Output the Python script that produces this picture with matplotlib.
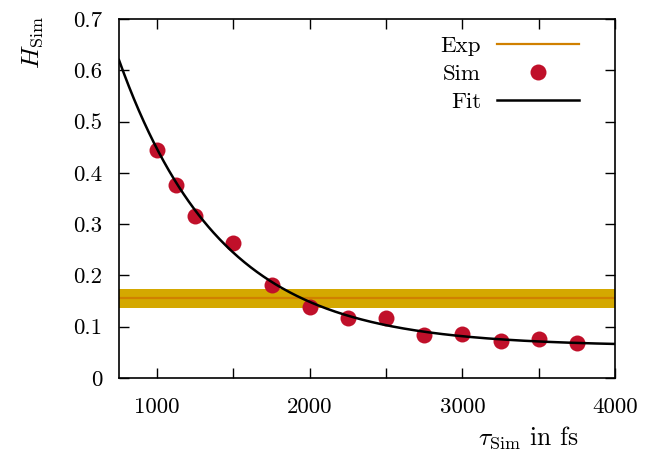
import numpy as np
import matplotlib
matplotlib.use("Agg")
import matplotlib.pyplot as plt

# Simulationswerte
tau_sim = [1000, 1125, 1250, 1500, 1750, 2000, 2250, 2500, 2750, 3000, 3250, 3500, 3750]
h_sim = [0.444, 0.376, 0.316, 0.263, 0.181, 0.138, 0.117, 0.117, 0.084, 0.086, 0.072, 0.076, 0.068]

# Experimenteller Wert mit Fehlerband
h_exp = 0.155
h_exp_err = 0.019

# Fit-Parameter: H = a * exp(-(tau - tau0) / t) + c
fit_a = 0.558
fit_tau0 = 750
fit_t = 670
fit_c = 0.062

x_ticks = [1000, 1500, 2000, 2500, 3000, 3500, 4000]
x_labels = ["1000", "", "2000", "", "3000", "", "4000"]
y_ticks = [0, 0.1, 0.2, 0.3, 0.4, 0.5, 0.6, 0.7]
y_labels = ["0", "0.1", "0.2", "0.3", "0.4", "0.5", "0.6", "0.7"]

plt.rcParams["font.family"] = "cmr10"
plt.rcParams["mathtext.fontset"] = "cm"
plt.rcParams["axes.formatter.use_mathtext"] = True
plt.rcParams["font.size"] = 16.5

fig = plt.figure(figsize=(6.51, 4.51), dpi=100)
ax = fig.add_axes([0.1828, 0.1619, 0.7619, 0.796])

# Band + Linie
ax.axhspan(h_exp - h_exp_err, h_exp + h_exp_err, color="#d4a800", lw=0, zorder=1)
ax.axhline(h_exp, color="#d08000", lw=1.6, zorder=2, label="Exp")

ax.plot(tau_sim, h_sim, "o", color="#c0102a", ms=11.5, mec="none", zorder=3, label="Sim")

x_fit = np.linspace(750, 4000, 400)
y_fit = fit_a * np.exp(-(x_fit - fit_tau0) / fit_t) + fit_c
ax.plot(x_fit, y_fit, color="black", lw=1.8, zorder=4, label="Fit")

ax.set_xlim(750, 4000)
ax.set_ylim(0, 0.7)
ax.set_xticks(x_ticks, x_labels)
ax.set_yticks(y_ticks, y_labels)
ax.tick_params(direction="in", top=True, right=True, length=7, width=1)
ax.tick_params(axis="x", pad=14)
ax.tick_params(axis="y", pad=12)
for s in ax.spines.values():
    s.set_linewidth(1.2)

ax.set_ylabel(r"$H_\mathrm{Sim}$", rotation=90, fontsize=18.5)
ax.yaxis.set_label_coords(-0.15, 0.935)
ax.set_xlabel(r"$\tau_\mathrm{Sim}$ in fs", fontsize=18.5)
ax.xaxis.set_label_coords(0.824, -0.13)

ax.legend(loc="upper right", bbox_to_anchor=(0.97, 1.01), frameon=False,
          markerfirst=False, handlelength=3.6, labelspacing=0.35, handletextpad=0.7)

fig.savefig("out.png", dpi=100)
